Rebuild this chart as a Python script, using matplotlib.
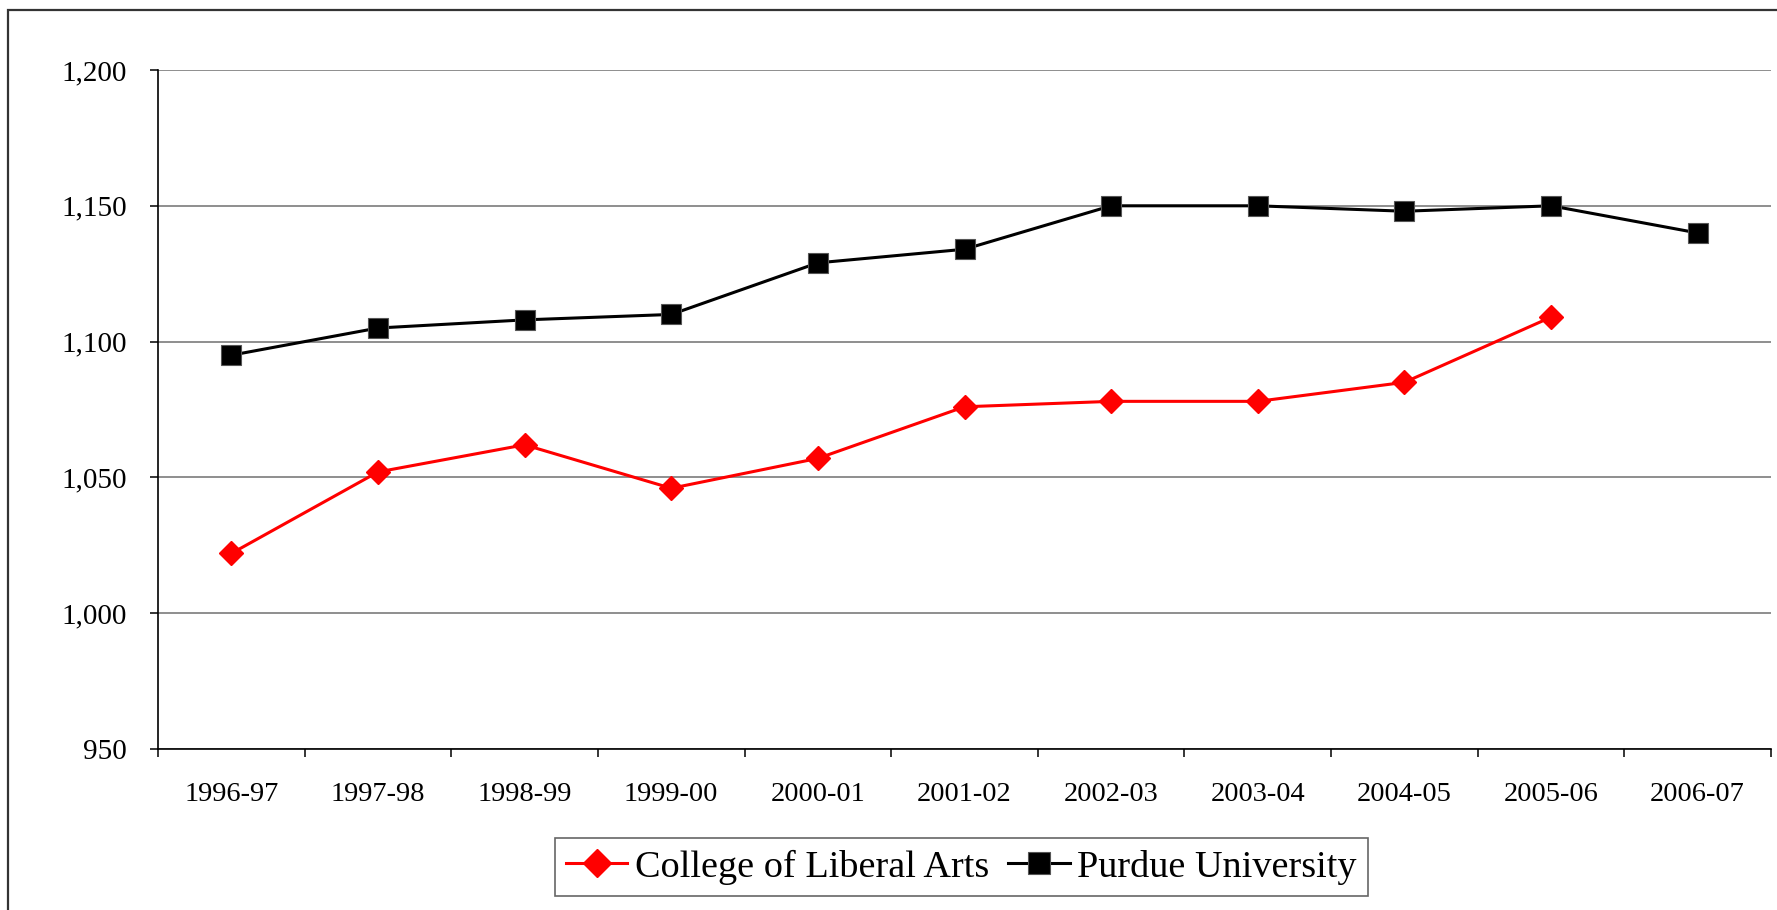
import matplotlib.pyplot as plt
from matplotlib.patches import Rectangle
from matplotlib.ticker import FuncFormatter

# Datos
years = ["1996-97", "1997-98", "1998-99", "1999-00", "2000-01", "2001-02",
         "2002-03", "2003-04", "2004-05", "2005-06", "2006-07"]
liberal_arts = [1022, 1052, 1062, 1046, 1057, 1076, 1078, 1078, 1085, 1109]
purdue = [1095, 1105, 1108, 1110, 1129, 1134, 1150, 1150, 1148, 1150, 1140]
y_ticks = [950, 1000, 1050, 1100, 1150, 1200]

plt.rcParams['font.family'] = ['Liberation Serif', 'DejaVu Serif']

fig = plt.figure(figsize=(17.77, 9.10), dpi=100)
W, H = 1777, 910
ax = fig.add_axes([158 / W, 1 - 749 / H, (1771 - 158) / W, (749 - 70) / H])

x = list(range(len(years)))
ax.plot(x[:len(liberal_arts)], liberal_arts, color="#ff0000", lw=2.2,
        marker="D", markersize=12, markeredgecolor="#ff0000",
        label="College of Liberal Arts", zorder=3)
ax.plot(x, purdue, color="black", lw=2.2, marker="s", markersize=14,
        markeredgecolor="#555555", markeredgewidth=0.8,
        label="Purdue University", zorder=3)

ax.set_xlim(-0.5, len(years) - 0.5)
ax.set_ylim(950, 1200)
ax.set_yticks(y_ticks)
ax.yaxis.set_major_formatter(FuncFormatter(lambda v, p: f"{int(v):,}"))
ax.grid(axis="y", color="#707070", lw=1.1, zorder=0)

# ticks del eje x entre categorías, etiquetas centradas
ax.set_xticks([i - 0.5 for i in range(len(years) + 1)])
ax.set_xticklabels([])
ax.set_xticks(x, minor=True)
ax.set_xticklabels(years, minor=True)
ax.tick_params(axis="x", which="major", length=6, width=1.1, direction="out")
ax.tick_params(axis="x", which="minor", length=0, pad=24, labelsize=20.5)
ax.tick_params(axis="y", length=6, width=1.1, pad=16.5, labelsize=21)

for s in ["top", "right"]:
    ax.spines[s].set_visible(False)
for s in ["left", "bottom"]:
    ax.spines[s].set_linewidth(1.2)

leg = ax.legend(loc="center", bbox_to_anchor=((563 + 1360) / 2 / W, 1 - 867 / H),
                bbox_transform=fig.transFigure, ncol=2, fontsize=27.5,
                frameon=True, fancybox=False, borderpad=0.3,
                handlelength=1.6, handletextpad=0.2, columnspacing=0.5,
                borderaxespad=0, markerscale=1.15)
leg.get_frame().set_edgecolor("#404040")
leg.get_frame().set_linewidth(1.2)

# marco exterior del gráfico
fig.add_artist(Rectangle((8 / W, -0.1), 1.2, 1 - 10 / H + 0.1,
                         transform=fig.transFigure, fill=False,
                         edgecolor="#333333", lw=1.6))

fig.savefig("out.png", dpi=100)
